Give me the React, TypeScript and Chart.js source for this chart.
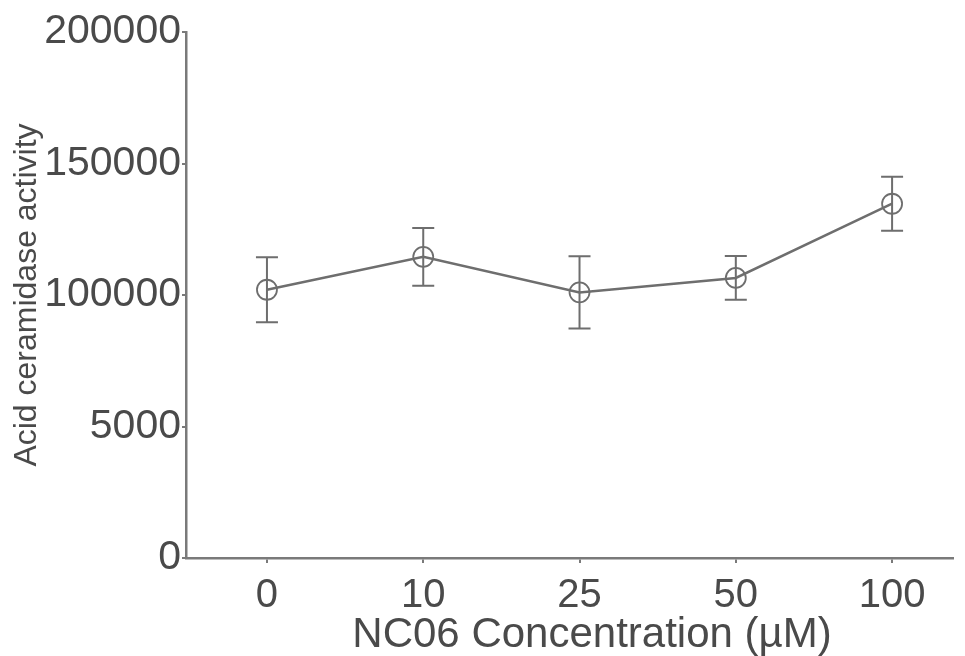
import React, { useEffect, useRef } from "react";
import { Chart, registerables } from "chart.js";

Chart.register(...registerables);

const categories = ["0", "10", "25", "50", "100"];
const activity = [102000, 114500, 101000, 106500, 134700];
const errors = [12400, 11000, 13700, 8300, 10300];
const yTickValues = [0, 50000, 100000, 150000, 200000];
const yTickLabels = ["0", "5000", "100000", "150000", "200000"];

const xTitle = "NC06 Concentration (\u00b5M)";
const yTitle = "Acid ceramidase activity";

const FONT = "'Liberation Sans', Arial, Helvetica, sans-serif";
const INK = "#4a4a4a";
const LINE = "#6e6e6e";
const AXIS = "#7a7a7a";

const errorBarPlugin = {
  id: "errorBars",
  afterDatasetsDraw(chart: any) {
    const { ctx, scales } = chart;
    const xs = scales.x;
    const ys = scales.y;
    ctx.save();
    ctx.strokeStyle = LINE;
    ctx.lineWidth = 2;
    activity.forEach((v, i) => {
      const px = xs.getPixelForValue(i);
      const top = ys.getPixelForValue(v + errors[i]);
      const bot = ys.getPixelForValue(v - errors[i]);
      const cap = 11;
      ctx.beginPath();
      ctx.moveTo(px, top);
      ctx.lineTo(px, bot);
      ctx.moveTo(px - cap, top);
      ctx.lineTo(px + cap, top);
      ctx.moveTo(px - cap, bot);
      ctx.lineTo(px + cap, bot);
      ctx.stroke();
    });
    ctx.restore();
  },
};

const xTitlePlugin = {
  id: "xTitle",
  afterDraw(chart: any) {
    const { ctx, scales } = chart;
    const xs = scales.x;
    ctx.save();
    ctx.fillStyle = INK;
    ctx.font = `42px ${FONT}`;
    ctx.textAlign = "center";
    ctx.textBaseline = "middle";
    ctx.fillText(xTitle, xs.getPixelForValue(2.08), xs.bottom - 21);
    ctx.restore();
  },
};

export default function App() {
  const ref = useRef<HTMLCanvasElement | null>(null);

  useEffect(() => {
    if (!ref.current) return;
    const chart = new Chart(ref.current, {
      type: "line",
      data: {
        datasets: [
          {
            data: activity.map((v, i) => ({ x: i, y: v })),
            borderColor: LINE,
            borderWidth: 2.5,
            tension: 0,
            pointRadius: 10,
            pointBorderWidth: 1.8,
            pointBorderColor: LINE,
            pointBackgroundColor: "rgba(255,255,255,0)",
            fill: false,
          },
        ],
      },
      plugins: [errorBarPlugin, xTitlePlugin],
      options: {
        responsive: false,
        animation: false,
        layout: { padding: { top: 32, right: 5, left: 0, bottom: 0 } },
        plugins: {
          legend: { display: false },
          tooltip: { enabled: false },
        },
        scales: {
          x: {
            type: "linear",
            min: -0.518,
            max: 4.391,
            afterBuildTicks: (scale: any) => {
              scale.ticks = categories.map((_, i) => ({ value: i }));
            },
            afterFit: (scale: any) => {
              scale.height = 98;
            },
            ticks: {
              autoSkip: false,
              maxRotation: 0,
              padding: 9,
              color: INK,
              font: { family: FONT, size: 40 },
              callback: (v: any) => categories[Math.round(Number(v))] ?? "",
            },
            grid: {
              display: true,
              drawOnChartArea: false,
              drawTicks: true,
              tickLength: 5,
              color: AXIS,
              lineWidth: 2,
            },
            border: { display: true, color: AXIS, width: 2.5 },
            title: { display: false },
          },
          y: {
            type: "linear",
            min: 0,
            max: 200000,
            afterBuildTicks: (scale: any) => {
              scale.ticks = yTickValues.map((v) => ({ value: v }));
            },
            afterFit: (scale: any) => {
              scale.width = 186;
            },
            ticks: {
              padding: 1,
              color: INK,
              font: { family: FONT, size: 41 },
              callback: (_v: any, idx: number) => yTickLabels[idx],
            },
            grid: {
              display: true,
              drawOnChartArea: false,
              drawTicks: true,
              tickLength: 4,
              color: AXIS,
              lineWidth: 2,
            },
            border: { display: true, color: AXIS, width: 2.5 },
            title: {
              display: true,
              text: yTitle,
              color: INK,
              font: { family: FONT, size: 32, lineHeight: 1.2 },
              padding: { top: 8, bottom: 0 },
            },
          },
        },
      },
    });
    return () => chart.destroy();
  }, []);

  return (
    <div style={{ position: "fixed", left: 0, top: 0, width: 965, height: 656, background: "#fff" }}>
      <canvas ref={ref} width={965} height={656} style={{ width: 965, height: 656 }} />
    </div>
  );
}
